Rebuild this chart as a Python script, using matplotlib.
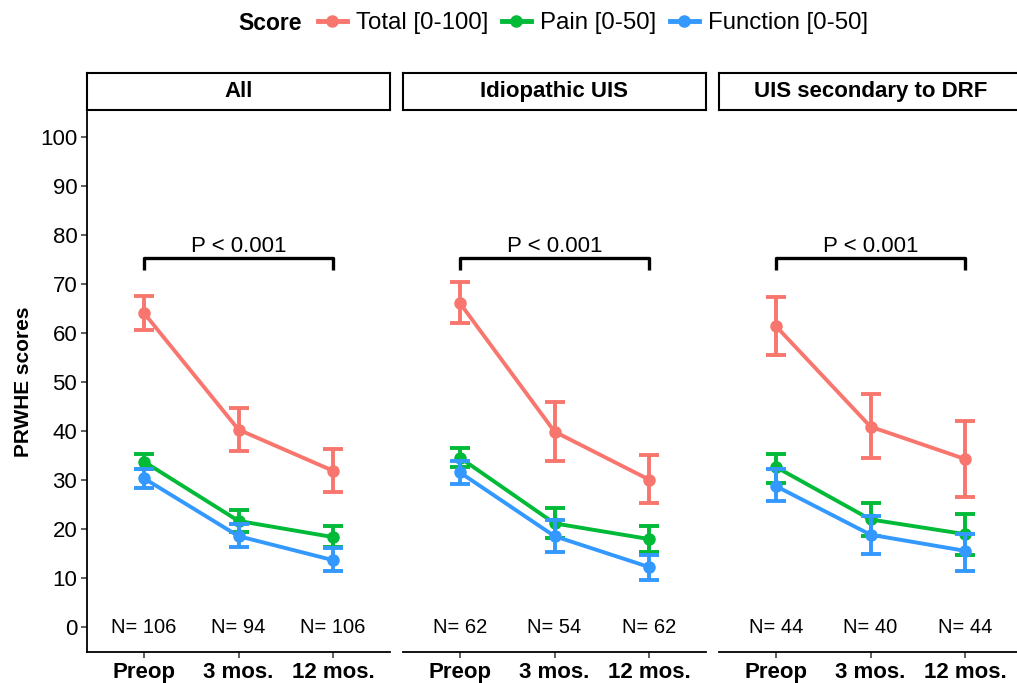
import matplotlib
matplotlib.use("Agg")
import matplotlib.pyplot as plt
from matplotlib.lines import Line2D
import numpy as np

plt.rcParams['font.family'] = ['Liberation Sans', 'DejaVu Sans']

# ---------------- data ----------------
timepoints = ["Preop", "3 mos.", "12 mos."]
panels = ["All", "Idiopathic UIS", "UIS secondary to DRF"]
series = ["Total [0-100]", "Pain [0-50]", "Function [0-50]"]
colors = ["#F8766D", "#00BA38", "#3399FF"]

# means per panel (rows: Total, Pain, Function)
all_mean = [[64.1, 40.3, 31.9], [33.8, 21.7, 18.4], [30.4, 18.6, 13.7]]
all_low = [[60.6, 35.9, 27.6], [32.3, 19.5, 16.3], [28.5, 16.3, 11.5]]
all_high = [[67.6, 44.7, 36.4], [35.3, 23.9, 20.6], [32.3, 21.0, 16.1]]

idio_mean = [[66.1, 39.9, 30.1], [34.6, 21.2, 18.0], [31.6, 18.6, 12.3]]
idio_low = [[62.0, 33.9, 25.4], [32.6, 18.2, 15.3], [29.2, 15.4, 9.7]]
idio_high = [[70.3, 45.9, 35.2], [36.5, 24.4, 20.7], [33.9, 21.8, 14.7]]

drf_mean = [[61.4, 40.9, 34.3], [32.7, 22.0, 19.0], [28.8, 18.9, 15.6]]
drf_low = [[55.5, 34.6, 26.5], [29.5, 18.6, 14.7], [25.7, 15.0, 11.6]]
drf_high = [[67.3, 47.5, 42.1], [35.4, 25.4, 23.2], [32.2, 22.7, 19.1]]

n_all = [106, 94, 106]
n_idio = [62, 54, 62]
n_drf = [44, 40, 44]

p_label = "P < 0.001"
y_ticks = [0, 10, 20, 30, 40, 50, 60, 70, 80, 90, 100]

panel_data = [
    (all_mean, all_low, all_high, n_all),
    (idio_mean, idio_low, idio_high, n_idio),
    (drf_mean, drf_low, drf_high, n_drf),
]

# ---------------- figure ----------------
W, H = 1017, 683
fig = plt.figure(figsize=(W / 100, H / 100), dpi=100)

panel_lefts = [87, 403, 719]
panel_w = 303
panel_bottom_px = 652
panel_top_px = 112
strip_top_px = 73
strip_bot_px = 110

x = np.arange(len(timepoints))

for i, (left_px, title, (mean, low, high, ns)) in enumerate(zip(panel_lefts, panels, panel_data)):
    ax = fig.add_axes([left_px / W, (H - panel_bottom_px) / H,
                       panel_w / W, (panel_bottom_px - panel_top_px) / H])
    for s in range(len(series)):
        m = np.array(mean[s])
        lo = np.array(low[s])
        hi = np.array(high[s])
        ax.errorbar(x, m, yerr=[m - lo, hi - m], color=colors[s], lw=2.8,
                    elinewidth=2.8, capsize=7.5, capthick=2.8, marker='o',
                    markersize=8, zorder=3 + s)
    # N labels
    for xi, n in zip(x, ns):
        ax.text(xi, 0, f"N= {n}", ha='center', va='center', fontsize=14.5, color='black')
    # significance bracket
    yb, ytick = 75.3, 72.8
    ax.plot([x[0], x[0], x[-1], x[-1]], [ytick, yb, yb, ytick], color='black',
            lw=2.4, solid_capstyle='butt', zorder=5)
    ax.text((x[0] + x[-1]) / 2, yb + 0.2, p_label, ha='center', va='bottom', fontsize=16)

    ax.set_xlim(-0.6, len(timepoints) - 1 + 0.6)
    ax.set_ylim(-5, 105)
    ax.set_xticks(x)
    ax.set_xticklabels(timepoints, fontsize=16, fontweight='bold')
    ax.set_yticks(y_ticks)
    for sp in ['top', 'right']:
        ax.spines[sp].set_visible(False)
    ax.spines['bottom'].set_linewidth(1.3)
    ax.spines['left'].set_linewidth(1.3)
    ax.tick_params(axis='x', length=4, width=1.1, pad=3, colors='#333333', labelcolor='black')
    if i == 0:
        ax.set_yticklabels([str(t) for t in y_ticks], fontsize=16)
        ax.tick_params(axis='y', length=4, width=1.1, pad=3, colors='#333333', labelcolor='black')
        ax.set_ylabel("PRWHE scores", fontsize=15, fontweight='bold', labelpad=5)
    else:
        ax.spines['left'].set_visible(False)
        ax.tick_params(axis='y', left=False, labelleft=False)

    # strip
    sax = fig.add_axes([left_px / W, (H - strip_bot_px) / H,
                        panel_w / W, (strip_bot_px - strip_top_px) / H])
    sax.set_xticks([])
    sax.set_yticks([])
    for sp in sax.spines.values():
        sp.set_linewidth(1.5)
        sp.set_color('black')
    sax.text(0.5, 0.5, title, ha='center', va='center', fontsize=16,
             fontweight='bold', transform=sax.transAxes)

# legend
handles = [Line2D([0], [0], color=c, lw=3.5, marker='o', markersize=8) for c in colors]
fig.legend(handles, series, loc='center', ncol=3, frameon=False,
           bbox_to_anchor=(593 / W, 1 - 23 / H), fontsize=17.3,
           handlelength=1.2, handletextpad=0.4, columnspacing=0.55,
           borderpad=0.0)
fig.text(302 / W, 1 - 23 / H, "Score", ha='right', va='center', fontsize=16.5,
         fontweight='bold')

fig.savefig("out.png", dpi=100)
